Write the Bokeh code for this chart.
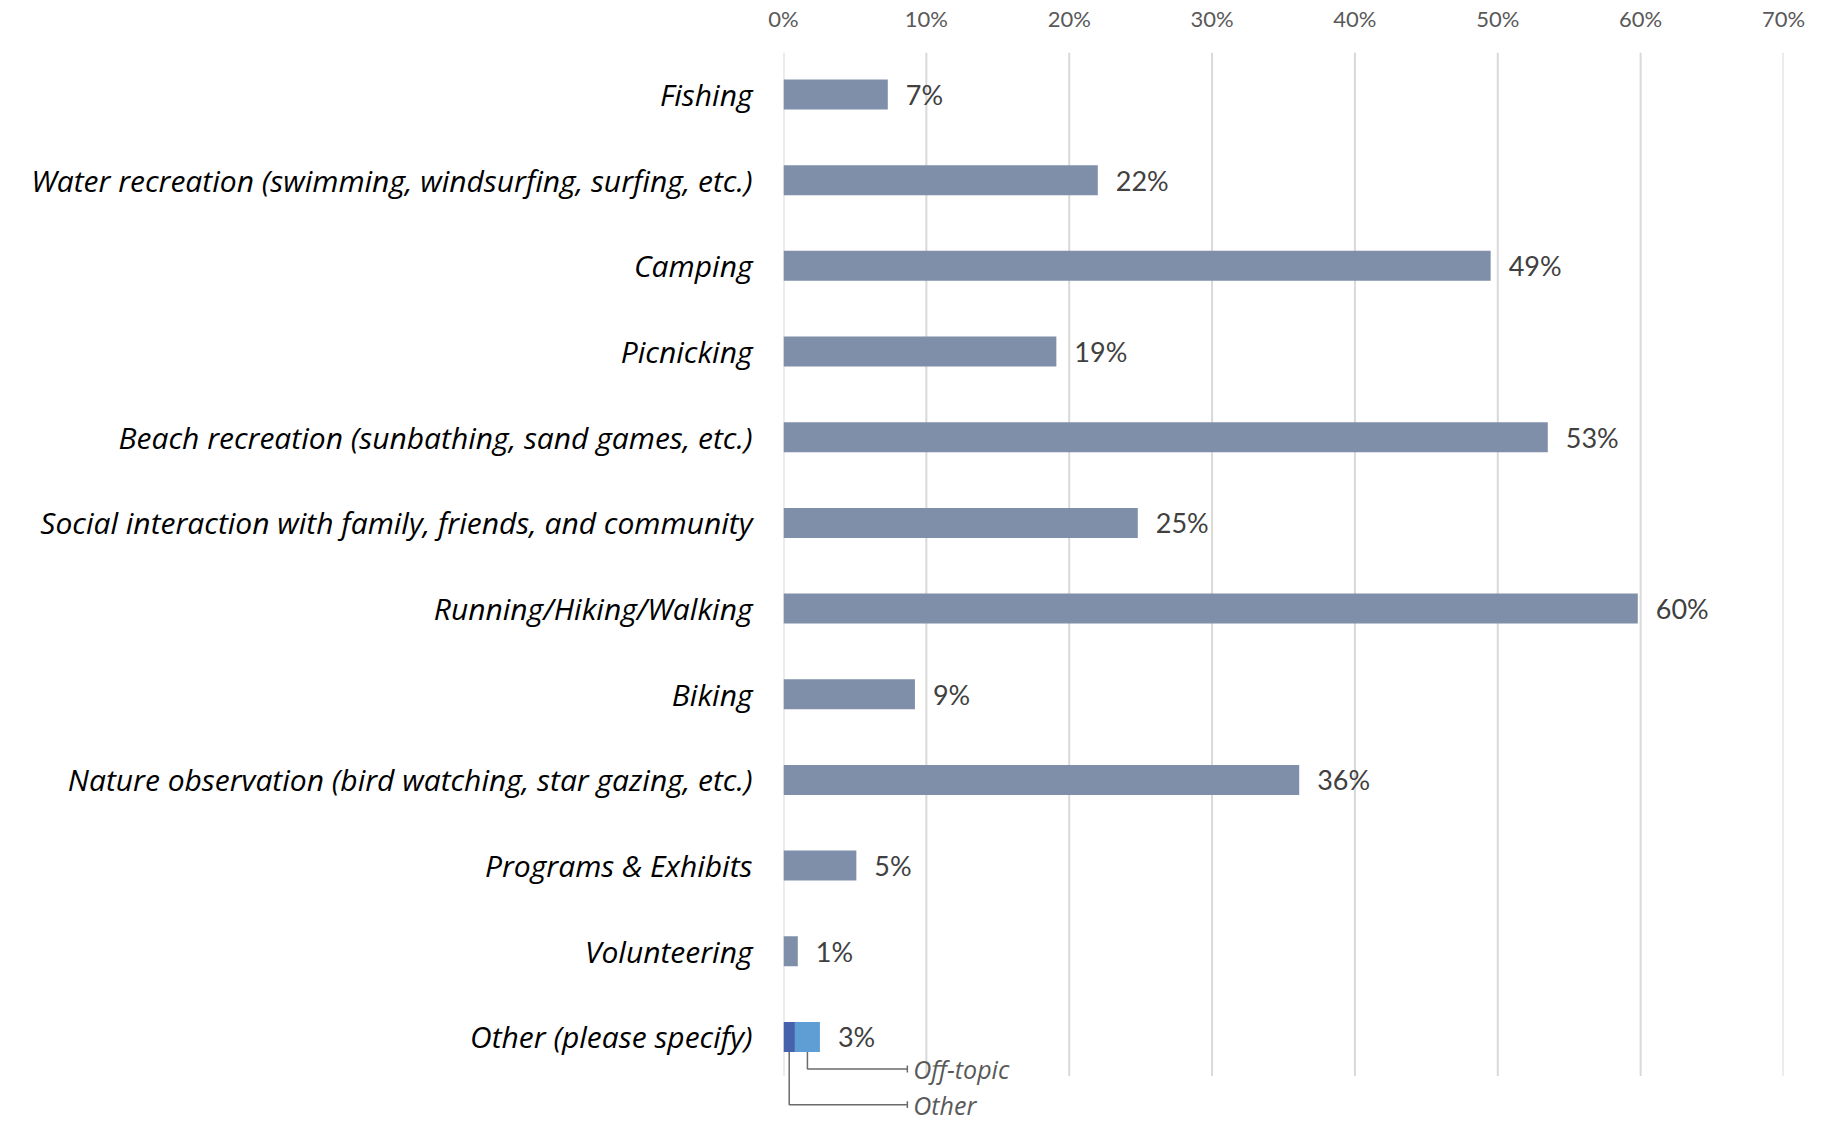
from bokeh.plotting import figure
from bokeh.models import Range1d, FixedTicker, PrintfTickFormatter
from bokeh.embed import file_html
from bokeh.resources import INLINE
from bokeh.core.properties import value

categories = [
    "Fishing",
    "Water recreation (swimming, windsurfing, surfing, etc.)",
    "Camping",
    "Picnicking",
    "Beach recreation (sunbathing, sand games, etc.)",
    "Social interaction with family, friends, and community",
    "Running/Hiking/Walking",
    "Biking",
    "Nature observation (bird watching, star gazing, etc.)",
    "Programs & Exhibits",
    "Volunteering",
    "Other (please specify)",
]
values = [7.3, 22.0, 49.5, 19.1, 53.5, 24.8, 59.8, 9.2, 36.1, 5.1, 1.0]
other_parts = ["Other", "Off-topic"]
other_values = [0.8, 1.75]
value_labels = ["7%", "22%", "49%", "19%", "53%", "25%", "60%", "9%", "36%", "5%", "1%", "3%"]
ticks = [0, 10, 20, 30, 40, 50, 60, 70]

FONT_LABEL = "Lato"
FONT_CAT = "Open Sans"
n = len(categories)
other_idx = n - 1
y_top, y_bottom = -0.49, 12.01
grid_bottom = 11.456
bar_h = 0.35

p = figure(
    frame_width=1000, frame_height=1071,
    x_range=Range1d(0, 70), y_range=Range1d(y_bottom, y_top),
    x_axis_location="above",
    output_backend="svg", toolbar_location=None,
    min_border_left=783, min_border_right=30, min_border_top=52, min_border_bottom=0,
)
p.xgrid.visible = False
p.ygrid.visible = False
p.outline_line_color = None
p.background_fill_color = "white"

# vertical gridlines at tick values
p.segment(x0=ticks, x1=ticks, y0=[y_top] * len(ticks), y1=[grid_bottom] * len(ticks),
          line_color="#d9d9d9", line_width=2)

# main bars
idx = list(range(len(values)))
p.hbar(y=idx, left=0, right=values, height=bar_h, fill_color="#7f8fa9", line_color=None)

# stacked "Other" bar
o_left = [0, other_values[0]]
o_right = [other_values[0], other_values[0] + other_values[1]]
p.hbar(y=[other_idx, other_idx], left=o_left, right=o_right, height=bar_h,
       fill_color=["#4662ad", "#5e9ed4"], line_color=None)

# data labels
label_x = values + [sum(other_values)]
p.text(x=label_x, y=list(range(n)), text=value_labels, x_offset=18,
       text_align="left", text_baseline="middle",
       text_font=value(FONT_LABEL), text_font_size="27px", text_color="#404040")

# leader lines for Other breakdown
centers = [other_values[0] / 2, other_values[0] + other_values[1] / 2]
levels = [11.79, 11.374]
x_end = 8.67
y_bar_bottom = other_idx + bar_h / 2
p.multi_line(xs=[[c, c, x_end] for c in centers],
             ys=[[y_bar_bottom, lv, lv] for lv in levels],
             line_color="#6b6b6b", line_width=1.5)
p.segment(x0=[x_end] * 2, x1=[x_end] * 2, y0=[lv - 0.04 for lv in levels],
          y1=[lv + 0.04 for lv in levels], line_color="#6b6b6b", line_width=1.5)
p.text(x=[x_end] * 2, y=levels, text=other_parts, x_offset=6,
       text_align="left", text_baseline="middle",
       text_font=value(FONT_CAT), text_font_style="italic",
       text_font_size="25px", text_color="#595959")

# top axis
xa = p.xaxis[0]
xa.ticker = FixedTicker(ticks=ticks)
xa.formatter = PrintfTickFormatter(format="%d%%")
xa.axis_line_color = None
xa.major_tick_line_color = None
xa.minor_tick_line_color = None
xa.major_tick_out = 0
xa.major_label_standoff = 21
xa.major_label_text_font = FONT_LABEL
xa.major_label_text_font_size = "22px"
xa.major_label_text_color = "#595959"

# category axis
ya = p.yaxis[0]
ya.ticker = FixedTicker(ticks=list(range(n)))
ya.major_label_overrides = {i: c for i, c in enumerate(categories)}
ya.axis_line_color = None
ya.major_tick_line_color = None
ya.minor_tick_line_color = None
ya.major_tick_out = 0
ya.major_label_standoff = 31
ya.major_label_text_font = FONT_CAT
ya.major_label_text_font_style = "italic"
ya.major_label_text_font_size = "30px"
ya.major_label_text_color = "#000000"

open("out.html", "w").write(file_html(p, INLINE))
